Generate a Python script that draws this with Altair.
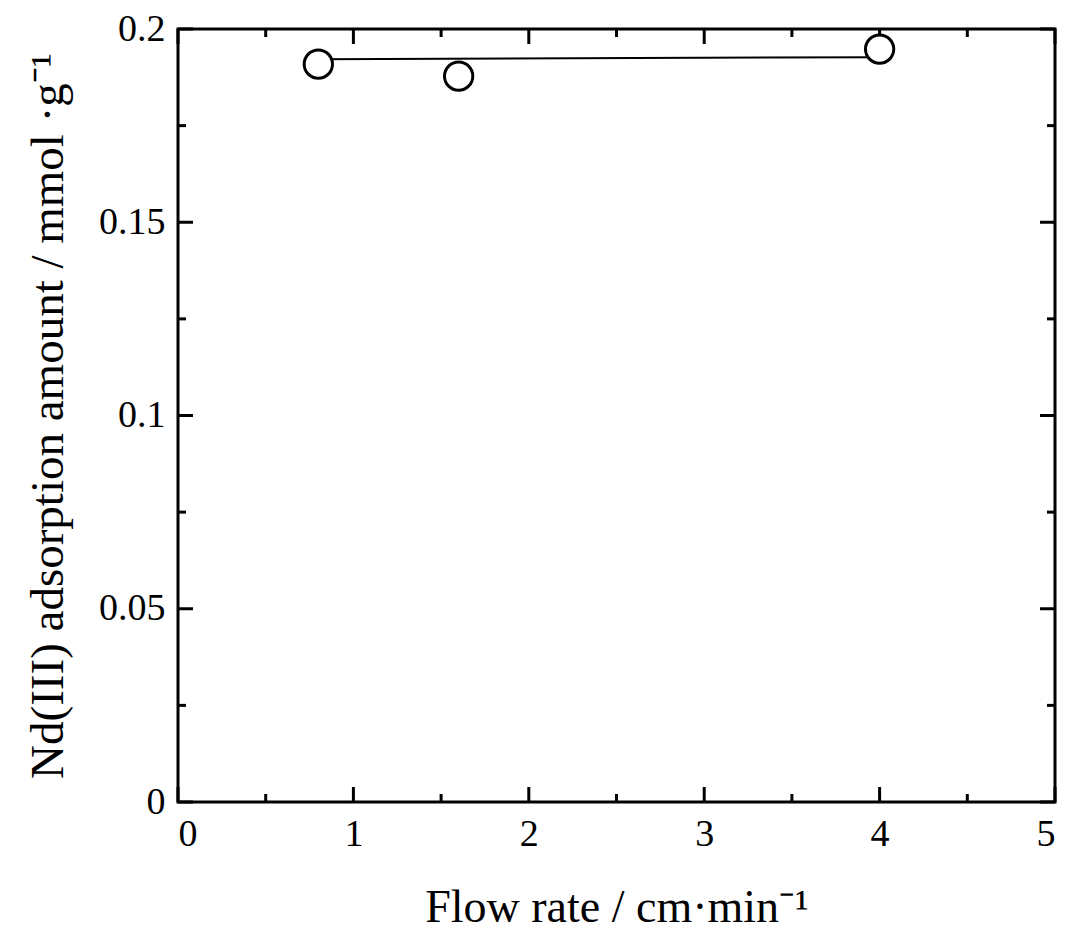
import altair as alt
import pandas as pd

flow = [0.8, 1.6, 4.0]
amount = [0.1909, 0.1878, 0.1948]
line_x = [0.8, 4.0]
line_y = [0.1922, 0.1927]

x_major = [0, 1, 2, 3, 4, 5]
x_minor = [0.5, 1.5, 2.5, 3.5, 4.5]
y_major = [0, 0.05, 0.1, 0.15, 0.2]
y_minor = [0.025, 0.075, 0.125, 0.175]

W, H = 877, 773
FONT = "Liberation Serif"

pts = pd.DataFrame({"x": flow, "y": amount})
ln = pd.DataFrame({"x": line_x, "y": line_y})

xs = alt.Scale(domain=[0, 5], nice=False, zero=False)
ys = alt.Scale(domain=[0, 0.2], nice=False, zero=False)

xaxis = alt.Axis(values=x_major, format="~g", tickSize=0, domain=False, grid=False,
                 labelFont=FONT, labelFontSize=38, labelColor="black", labelPadding=13,
                 title="Flow rate / cm·min⁻¹", titleFont=FONT, titleFontSize=46,
                 titleFontWeight="normal", titleColor="black", titlePadding=32)
yaxis = alt.Axis(values=y_major, format="~g", tickSize=0, domain=False, grid=False,
                 labelFont=FONT, labelFontSize=38, labelColor="black", labelPadding=13,
                 title="Nd(III) adsorption amount / mmol ·g⁻¹", titleFont=FONT, titleFontSize=47,
                 titleFontWeight="normal", titleColor="black", titlePadding=26)

line = alt.Chart(ln).mark_line(color="black", strokeWidth=2).encode(
    x=alt.X("x:Q", scale=xs, axis=xaxis),
    y=alt.Y("y:Q", scale=ys, axis=yaxis),
)
circles = alt.Chart(pts).mark_point(shape="circle", size=800, filled=True, fill="white",
                                    stroke="black", strokeWidth=3, opacity=1).encode(
    x=alt.X("x:Q", scale=xs),
    y=alt.Y("y:Q", scale=ys),
)

def xticks(vals, length):
    d = pd.DataFrame({"t": vals})
    bot = alt.Chart(d).mark_rule(color="black", strokeWidth=3).encode(
        x=alt.X("t:Q", scale=xs), y=alt.value(H), y2=alt.value(H - length))
    top = alt.Chart(d).mark_rule(color="black", strokeWidth=3).encode(
        x=alt.X("t:Q", scale=xs), y=alt.value(0), y2=alt.value(length))
    return [bot, top]

def yticks(vals, length):
    d = pd.DataFrame({"t": vals})
    left = alt.Chart(d).mark_rule(color="black", strokeWidth=3).encode(
        y=alt.Y("t:Q", scale=ys), x=alt.value(0), x2=alt.value(length))
    right = alt.Chart(d).mark_rule(color="black", strokeWidth=3).encode(
        y=alt.Y("t:Q", scale=ys), x=alt.value(W), x2=alt.value(W - length))
    return [left, right]

layers = [line] + xticks(x_major, 15) + xticks(x_minor, 8) + yticks(y_major, 15) + yticks(y_minor, 8) + [circles]

chart = alt.layer(*layers).properties(
    width=W, height=H,
    autosize=alt.AutoSizeParams(type="none"),
    padding={"left": 170, "top": 21, "right": 4, "bottom": 132},
).configure_view(stroke="black", strokeWidth=3)

chart.save("out.html", embed_options={"renderer": "svg", "actions": False})
